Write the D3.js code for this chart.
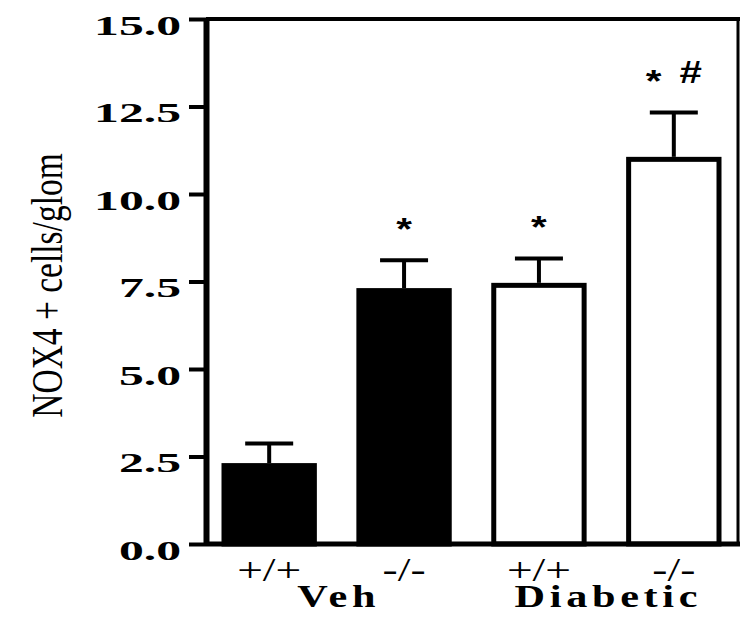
<!DOCTYPE html>
<html>
<head>
<meta charset="utf-8">
<script src="https://cdn.jsdelivr.net/npm/d3@7"></script>
<style>
  body { margin: 0; background: #fff; }
  svg { display: block; }
</style>
</head>
<body>
<script>
// data
const genotype  = ["+/+", "-/-", "+/+", "-/-"];
const treatment = ["Veh", "Veh", "Diabetic", "Diabetic"];
const groups    = ["Veh", "Diabetic"];
const means     = [2.24, 7.24, 7.39, 10.99];
const sem       = [0.63, 0.87, 0.77, 1.34];
const marks     = ["", "*", "*", "* #"];
const fills     = ["#000", "#000", "#fff", "#fff"];
const yTicks    = [0, 2.5, 5, 7.5, 10, 12.5, 15];

const W = 740, H = 621;
const x0 = 206, xR = 738;
const serif = "'Liberation Serif', 'Times New Roman', serif";
const sans = "'Liberation Sans', Arial, sans-serif";

const svg = d3.select("body").append("svg").attr("width", W).attr("height", H);

const y = d3.scaleLinear().domain([0, 15]).range([544, 19]);
const x = d3.scaleBand().domain(d3.range(genotype.length)).range([224, 719]).paddingInner(0.33);

// bars
svg.append("g").selectAll("rect")
  .data(means)
  .join("rect")
    .attr("x", (d, i) => x(i))
    .attr("y", d => y(d))
    .attr("width", x.bandwidth())
    .attr("height", d => y(0) - y(d))
    .attr("fill", (d, i) => fills[i])
    .attr("stroke", "#000")
    .attr("stroke-width", 5);

// error bars (upper only)
const err = svg.append("g").attr("stroke", "#000").attr("stroke-width", 4);
means.forEach((m, i) => {
  const cx = x(i) + x.bandwidth() / 2;
  err.append("line").attr("x1", cx).attr("x2", cx).attr("y1", y(m) - 2.5).attr("y2", y(m + sem[i]));
  err.append("line").attr("x1", cx - 24).attr("x2", cx + 24).attr("y1", y(m + sem[i])).attr("y2", y(m + sem[i]));
});

// significance marks
means.forEach((m, i) => {
  if (!marks[i]) return;
  const cx = x(i) + x.bandwidth() / 2;
  const t = svg.append("text")
    .attr("transform", `translate(${cx},${y(m + sem[i]) - 20}) scale(1.3,1)`)
    .attr("text-anchor", "middle")
    .attr("font-family", sans).attr("font-weight", "bold").attr("font-size", 31);
  marks[i].split(" ").forEach((s, k) => {
    t.append("tspan").attr("dx", k ? 14 : null).attr("dy", k ? -9 : null).text(s);
  });
});

// frame
const frame = svg.append("g").attr("stroke", "#000").attr("fill", "none");
frame.append("line").attr("x1", x0).attr("x2", xR + 2).attr("y1", y(15)).attr("y2", y(15)).attr("stroke-width", 4);
frame.append("line").attr("x1", xR).attr("x2", xR).attr("y1", y(15)).attr("y2", y(0)).attr("stroke-width", 3);
frame.append("line").attr("x1", x0).attr("x2", W).attr("y1", y(0)).attr("y2", y(0)).attr("stroke-width", 5);

// y axis
const yAxis = svg.append("g")
  .attr("transform", `translate(${x0},0)`)
  .call(d3.axisLeft(y).tickValues(yTicks).tickSize(17).tickSizeOuter(0).tickFormat(d3.format(".1f")))
  .attr("font-family", serif).attr("font-size", 27).attr("font-weight", "bold");
yAxis.select(".domain").attr("stroke-width", 6);
yAxis.selectAll(".tick line").attr("stroke-width", 4);
yAxis.selectAll(".tick text")
  .attr("x", null).attr("dy", null)
  .attr("fill", "#000")
  .attr("transform", "translate(-25,15) scale(1.84,1)");

// x axis: genotype labels
const xAxis = svg.append("g")
  .attr("transform", `translate(0,${y(0)})`)
  .call(d3.axisBottom(x).tickSize(0).tickFormat(i => genotype[i]))
  .attr("font-family", serif).attr("font-size", 33);
xAxis.select(".domain").remove();
xAxis.selectAll(".tick text")
  .attr("y", null).attr("dy", null)
  .attr("fill", "#000")
  .attr("transform", "translate(0,37) scale(1.38,1)");

// treatment group labels
groups.forEach(g => {
  const idx = d3.range(treatment.length).filter(i => treatment[i] === g);
  const cx = d3.mean(idx, i => x(i) + x.bandwidth() / 2);
  svg.append("text")
    .attr("transform", `translate(${cx + 2},607) scale(1.3,1)`)
    .attr("text-anchor", "middle")
    .attr("font-family", serif).attr("font-weight", "bold").attr("font-size", 32.5)
    .attr("letter-spacing", 3.6)
    .text(g);
});

// y title
svg.append("text")
  .attr("transform", "translate(62,285.5) scale(1.3,1) rotate(-90)")
  .attr("text-anchor", "middle")
  .attr("font-family", serif).attr("font-size", 33.5)
  .text("NOX4 + cells/glom");
</script>
</body>
</html>
